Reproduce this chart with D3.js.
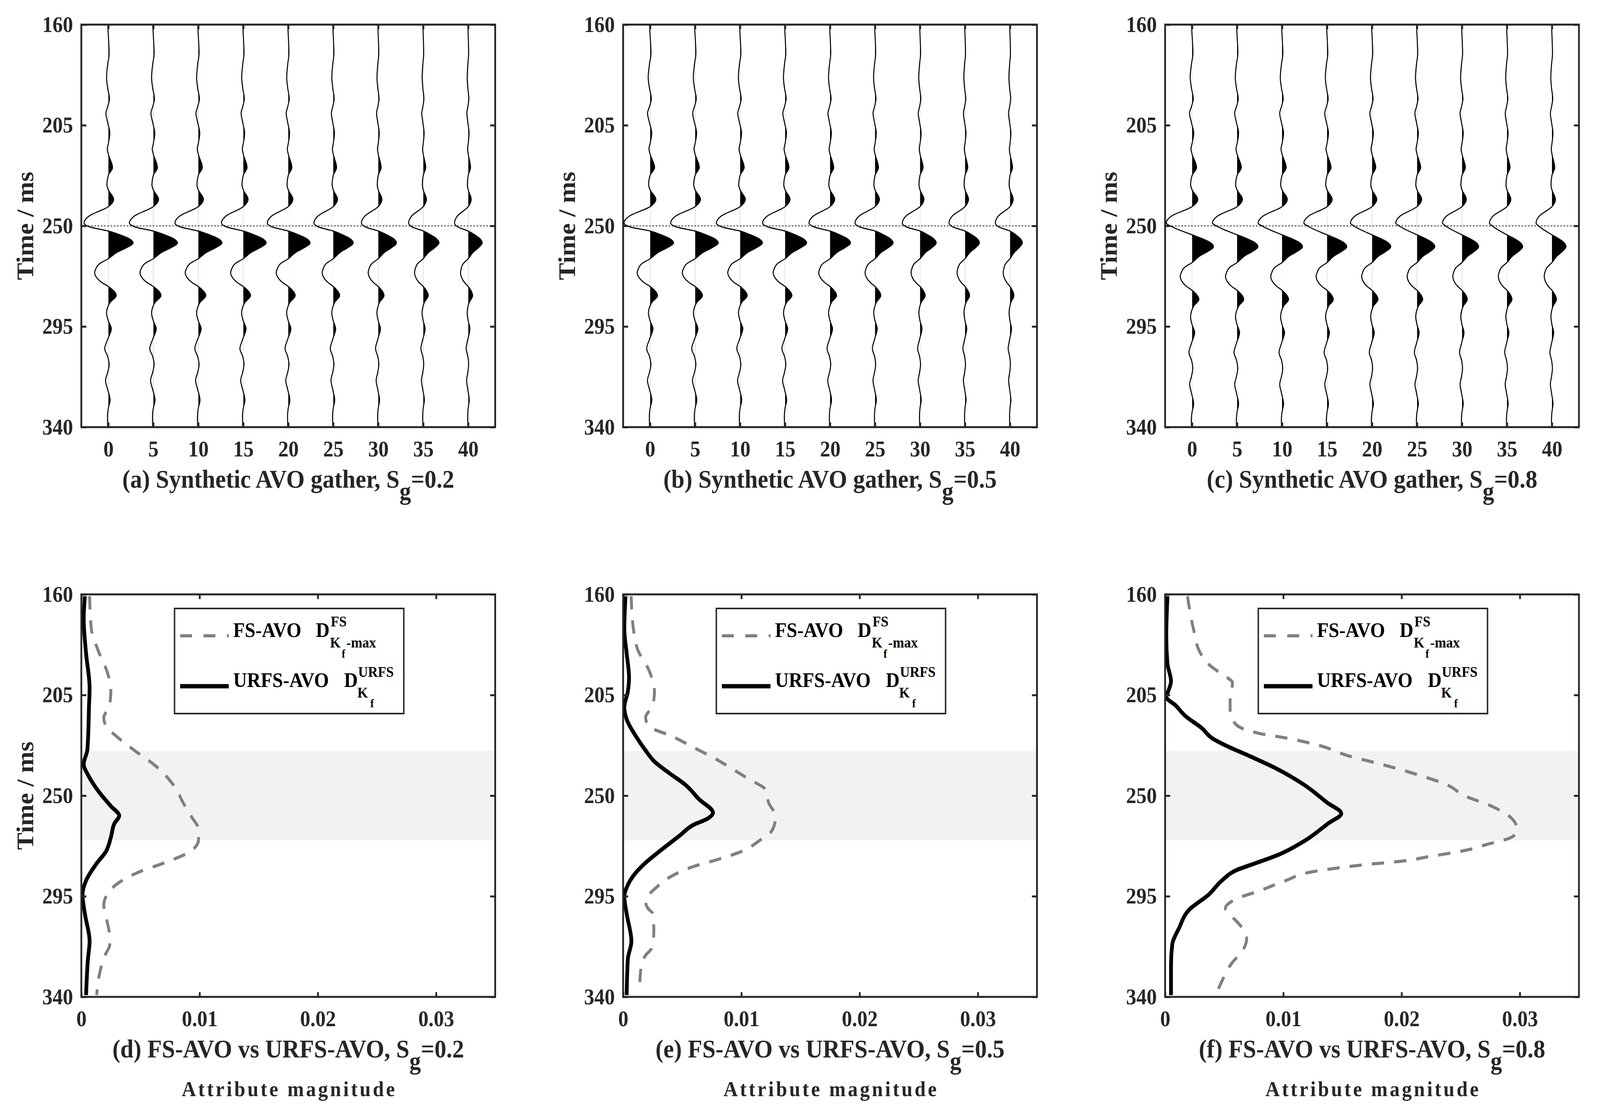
<!DOCTYPE html>
<html>
<head>
<meta charset="utf-8">
<script src="https://cdn.jsdelivr.net/npm/d3@7"></script>
<style>
  html, body { margin: 0; padding: 0; background: #fff; overflow: hidden; }
  #fig { display: block; width: 100vw; height: 100vh; }
</style>
</head>
<body>
<svg id="fig"></svg>
<script>
// ---- data ----
const offsets = [0, 5, 10, 15, 20, 25, 30, 35, 40];
const timeTicks = [160, 205, 250, 295, 340];
const magTicks = [0, 0.01, 0.02, 0.03];
const satValues = ["0.2", "0.5", "0.8"];
const gatherLetters = ["(a)", "(b)", "(c)"];
const compLetters = ["(d)", "(e)", "(f)"];

// reference trace: offset 0 of panel (a), amplitude in offset units
const waveTime = [160, 164.7, 173.0, 177.7, 183.7, 188.4, 193.1, 196.7, 199.6, 203.8,
  208.5, 213.2, 215.6, 217.9, 223.9, 227.4, 231.6, 233.9, 238.1, 241.4,
  245.7, 248.7, 250.5, 252.3, 254.0, 255.8, 257.6, 259.9, 261.7, 264.7,
  267.0, 269.4, 270.9, 272.9, 275.3, 277.1, 281.2, 284.2, 286.6, 288.9,
  292.5, 296.0, 300.7, 304.9, 308.4, 312.0, 315.5, 319.1, 323.2, 327.9,
  331.5, 335.0, 340];
const waveAmp = [-0.07, 0, 0.09, -0.07, -0.2, -0.07, 0.13, -0.07, -0.27, -0.07,
  0.17, 0, -0.12, 0, 0.47, 0, -0.16, 0, 0.6, 0,
  -2.2, -2.73, -2.07, 0, 1.27, 2.33, 2.73, 1.93, 1.0, 0,
  -1.0, -1.4, -1.51, -1.33, -0.73, 0, 0.87, 0.2, -0.09, -0.2,
  0, 0.33, -0.07, -0.4, -0.07, 0.09, -0.07, -0.31, -0.07, 0.2,
  0, -0.09, -0.07];
const refTrough = 2.73, refPeak = 2.73, splitTime = 252.3;

// trough (~249 ms) and peak (~258 ms) size of every trace
const troughA = [2.7, 2.66, 2.6, 2.43, 2.33, 2.15, 1.87, 1.62, 1.52];
const peakA   = [2.75, 2.68, 2.63, 2.54, 2.42, 2.22, 2.02, 1.75, 1.55];
const troughB = [2.9, 2.72, 2.64, 2.5, 2.34, 2.23, 1.97, 1.78, 1.63];
const peakB   = [2.6, 2.57, 2.48, 2.39, 2.27, 2.0, 1.8, 1.6, 1.37];
const troughC = [2.88, 2.74, 2.66, 2.58, 2.4, 2.36, 2.17, 1.95, 1.77];
const peakC   = [2.38, 2.32, 2.27, 2.19, 2.08, 1.98, 1.85, 1.74, 1.56];
// delay (ms) of the part below the zero crossing, per gather
const lowerDelay = [0, 0, 1.7];

// [time ms, attribute]
const fsD = [[160.8,0.0007],[175.5,0.00085],[184.8,0.0014],[195.7,0.00225],[201.9,0.0025],
  [209.7,0.0024],[215.1,0.0019],[219,0.0021],[223.6,0.003],[229.8,0.0045],[236.8,0.0063],
  [246.9,0.008],[253.1,0.0086],[259.3,0.0093],[265.5,0.00994],[270.2,0.0099],[275.6,0.009],
  [280.3,0.0069],[284.1,0.0049],[288.8,0.0032],[295,0.0021],[298.9,0.0019],[304.3,0.0021],
  [313.6,0.0024],[316.7,0.0024],[321.4,0.002],[330.7,0.0015],[339.2,0.0013]];
const urD = [[160.8,0.0003],[170.9,0.0002],[186.4,0.0004],[201.9,0.0007],[209.7,0.00065],
  [225.2,0.00056],[229.8,0.0005],[236,0.0002],[240.7,0.00056],[248.4,0.0015],[254.7,0.0025],
  [259,0.0032],[262.4,0.0028],[268.6,0.0025],[274.8,0.0021],[280.3,0.0013],[288,0.0004],
  [294.2,0.0001],[302.8,0.0003],[315.2,0.0007],[323,0.00056],[339.2,0.0004]];
const fsE = [[160.8,0.00068],[175.5,0.00087],[184.8,0.00124],[194.1,0.0022],[203.4,0.00265],
  [209.7,0.0025],[215.1,0.0019],[219,0.0022],[223.6,0.0042],[228.3,0.0059],[232.9,0.0076],
  [237.6,0.0091],[242.2,0.0105],[247.7,0.0121],[253.1,0.0123],[259.3,0.0129],[265.5,0.0126],
  [270.2,0.0115],[274.8,0.0101],[278.7,0.0079],[281.8,0.0059],[285.7,0.0042],[291.1,0.0028],
  [297.3,0.0019],[300.4,0.0021],[302.8,0.0025],[310.6,0.0026],[318.3,0.0024],[321.4,0.0019],
  [327.6,0.0015],[335.4,0.0014]];
const urE = [[160.8,0.0002],[175.5,0.0001],[186.4,0.0003],[197.2,0.0005],[203.4,0.0004],
  [210.5,0.0001],[215.9,0.0003],[223.6,0.0011],[229.8,0.0019],[234.5,0.0026],[239.9,0.0039],
  [245.3,0.0053],[251.5,0.0064],[257.7,0.0076],[260.1,0.0072],[263.2,0.0059],[267.8,0.0048],
  [274.8,0.0031],[281,0.0017],[284.9,0.001],[291.1,0.0003],[295,0.0001],[302.8,0.0003],
  [315.2,0.0007],[323,0.0004],[339.2,0.0003]];
const fsF = [[160.8,0.0019],[175.5,0.0024],[186.4,0.003],[191.8,0.0038],[195.7,0.0048],
  [199.6,0.0057],[206.6,0.0055],[212.8,0.0055],[218.2,0.006],[222.1,0.0079],[224.4,0.0104],
  [227.5,0.013],[232.2,0.0155],[236,0.0183],[240.7,0.0214],[245.3,0.0239],[250,0.0253],
  [254.7,0.0276],[260.1,0.0293],[265.5,0.0298],[268.6,0.0293],[271.7,0.0273],[274.8,0.0251],
  [277.1,0.0225],[279.5,0.0197],[280.7,0.0172],[282.3,0.0147],[284.1,0.0124],[288,0.0102],
  [292.7,0.0079],[295.8,0.0062],[300.4,0.0051],[304.3,0.0057],[309,0.0065],[313.6,0.0069],
  [319.8,0.0065],[324.5,0.0057],[333,0.0048],[339.2,0.0043]];
const urF = [[160.8,0.0002],[178.6,0.0001],[191,0.0002],[198.8,0.0005],[204.2,0.0002],
  [205.8,0.0001],[209.7,0.0009],[214.3,0.0017],[219.8,0.0031],[224.4,0.004],[227.5,0.0051],
  [232.2,0.0071],[237.6,0.0093],[245.3,0.0118],[253.1,0.0137],[258,0.0149],[262.4,0.0138],
  [270.2,0.0118],[276.4,0.0096],[280.3,0.0076],[283.4,0.006],[288,0.0048],[294.2,0.0037],
  [301.2,0.002],[309,0.0012],[316.7,0.0006],[326,0.0005],[339.2,0.0005]];
const bandTimes = [230, 270];

const gathers = [
  { trough: troughA, peak: peakA, delay: lowerDelay[0] },
  { trough: troughB, peak: peakB, delay: lowerDelay[1] },
  { trough: troughC, peak: peakC, delay: lowerDelay[2] }
];
const comps = [
  { fs: fsD, ur: urD },
  { fs: fsE, ur: urE },
  { fs: fsF, ur: urF }
];

// ---- layout ----
const W = 4446, H = 2843;
const colX = [226, 1731.5, 3237.5];
const rowY = [63, 1521];
const PW = 1150, PH = 1030;
const INK = "#262626";
const FONT = "'Liberation Serif','Times New Roman',serif";

// the drawing is laid out on a 4446x2843 grid and stretched to fill the window
const svg = d3.select("#fig")
  .attr("viewBox", `0 0 ${W} ${H}`)
  .attr("preserveAspectRatio", "none")
  .attr("font-family", FONT).attr("font-weight", "bold");
svg.append("rect").attr("width", W).attr("height", H).attr("fill", "#fff");
const defs = svg.append("defs");

function frame(g, x, y, xTicks, xFmt) {
  const style = sel => {
    sel.attr("font-family", FONT).attr("font-size", 57)
      .attr("font-weight", "bold").attr("color", INK);
    sel.select(".domain").remove();
    sel.selectAll("line").attr("stroke-width", 5);
  };
  g.append("g")
    .call(d3.axisLeft(y).tickValues(timeTicks).tickSize(-14).tickPadding(23))
    .call(style);
  g.append("g").attr("transform", `translate(${PW},0)`)
    .call(d3.axisRight(y).tickValues(timeTicks).tickSize(-14).tickFormat(""))
    .call(style);
  g.append("g")
    .call(d3.axisTop(x).tickValues(xTicks).tickSize(-12).tickFormat(""))
    .call(style);
  const bx = g.append("g").attr("transform", `translate(0,${PH})`)
    .call(d3.axisBottom(x).tickValues(xTicks).tickSize(-12).tickFormat(xFmt))
    .call(style);
  bx.selectAll("text").attr("y", 75).attr("dy", null);
  g.append("rect").attr("width", PW).attr("height", PH)
    .attr("fill", "none").attr("stroke", INK).attr("stroke-width", 5);
}

function yLabel(g) {
  g.append("text")
    .attr("transform", `translate(-134,${PH / 2}) rotate(-90)`)
    .attr("text-anchor", "middle").attr("font-size", 66).attr("fill", INK)
    .text("Time / ms");
}

function title(g, head, sg) {
  const t = g.append("text")
    .attr("x", PW / 2).attr("y", PH + 155)
    .attr("text-anchor", "middle").attr("font-size", 66).attr("fill", INK);
  t.append("tspan").text(head + ", S");
  t.append("tspan").attr("dy", 30).attr("font-size", 64).text("g");
  t.append("tspan").attr("dy", -30).text("=" + sg);
}

// ---- top row: synthetic gathers ----
gathers.forEach((gp, k) => {
  const g = svg.append("g").attr("transform", `translate(${colX[k]},${rowY[0]})`);
  const x = d3.scaleLinear([-3, 43], [0, PW]);
  const y = d3.scaleLinear([160, 340], [0, PH]);
  const line = d3.line().curve(d3.curveMonotoneY)
    .x(d => x(d[1])).y(d => y(d[0]));
  const clipId = `clipg-${k}`;
  defs.append("clipPath").attr("id", clipId).append("rect").attr("width", PW).attr("height", PH);

  g.append("line")
    .attr("x1", 0).attr("x2", PW).attr("y1", y(250)).attr("y2", y(250))
    .attr("stroke", "#888").attr("stroke-width", 4).attr("stroke-dasharray", "5,4");

  const traces = g.append("g").attr("clip-path", `url(#${clipId})`);
  offsets.forEach((o, i) => {
    const pts = waveTime.map((t, j) => t < splitTime
      ? [t, o + waveAmp[j] * gp.trough[i] / refTrough]
      : [t + gp.delay, o + waveAmp[j] * gp.peak[i] / refPeak]);
    const id = `clip-${k}-${i}`;
    defs.append("clipPath").attr("id", id).append("rect")
      .attr("x", x(o)).attr("y", 0).attr("width", PW - x(o)).attr("height", PH);
    const d = line(pts);
    traces.append("g").attr("clip-path", `url(#${id})`).append("path")
      .attr("d", `${d}L${x(o)},${y(pts[pts.length - 1][0])}L${x(o)},${y(pts[0][0])}Z`)
      .attr("fill", "#000");
    traces.append("path").attr("d", d)
      .attr("fill", "none").attr("stroke", "#000").attr("stroke-width", 2.8);
  });

  frame(g, x, y, offsets, d => String(d));
  yLabel(g);
  title(g, gatherLetters[k] + " Synthetic AVO gather", satValues[k]);
});

// ---- bottom row: FS-AVO vs URFS-AVO ----
function legend(g) {
  const lg = g.append("g").attr("transform", "translate(259,36)");
  lg.append("rect").attr("width", 637).attr("height", 269)
    .attr("fill", "#fff").attr("stroke", INK).attr("stroke-width", 4);
  lg.append("line").attr("x1", 15.5).attr("x2", 150.6).attr("y1", 70).attr("y2", 70)
    .attr("stroke", "#808080").attr("stroke-width", 8).attr("stroke-dasharray", "33,32");
  lg.append("line").attr("x1", 15.5).attr("x2", 150.6).attr("y1", 199).attr("y2", 199)
    .attr("stroke", "#000").attr("stroke-width", 11);
  const txt = (s, x, y, size) => lg.append("text").attr("x", x).attr("y", y)
    .attr("font-size", size).attr("fill", "#000").text(s);
  txt("FS-AVO", 163, 73, 53);
  txt("D", 392.6, 73, 53);
  txt("FS", 434, 46, 38);
  txt("K", 432, 100, 38);
  txt("f", 464.5, 126, 30);
  txt("-max", 477.6, 100, 38);
  txt("URFS-AVO", 163, 201, 53);
  txt("D", 471, 201, 53);
  txt("URFS", 510, 175, 38);
  txt("K", 508, 228, 38);
  txt("f", 544, 253, 30);
}

comps.forEach((cp, k) => {
  const g = svg.append("g").attr("transform", `translate(${colX[k]},${rowY[1]})`);
  const x = d3.scaleLinear([0, 0.035], [0, PW]);
  const y = d3.scaleLinear([160, 340], [0, PH]);
  const id = `clipc-${k}`;
  defs.append("clipPath").attr("id", id).append("rect").attr("width", PW).attr("height", PH);

  g.append("rect")
    .attr("x", 0).attr("width", PW)
    .attr("y", y(bandTimes[0])).attr("height", y(bandTimes[1]) - y(bandTimes[0]))
    .attr("fill", "#f2f2f2");

  const line = d3.line().curve(d3.curveMonotoneY)
    .x(d => x(d[1])).y(d => y(d[0]));
  const plot = g.append("g").attr("clip-path", `url(#${id})`);
  plot.append("path").attr("d", line(cp.fs))
    .attr("fill", "none").attr("stroke", "#808080").attr("stroke-width", 8)
    .attr("stroke-dasharray", "34,28");
  plot.append("path").attr("d", line(cp.ur))
    .attr("fill", "none").attr("stroke", "#000").attr("stroke-width", 10.5)
    .attr("stroke-linejoin", "round");

  frame(g, x, y, magTicks, d => String(d));
  legend(g);
  if (k === 0) yLabel(g);
  title(g, compLetters[k] + " FS-AVO vs URFS-AVO", satValues[k]);
  g.append("text")
    .attr("x", PW / 2 + 3).attr("y", PH + 254)
    .attr("text-anchor", "middle").attr("font-size", 55)
    .attr("letter-spacing", 6).attr("fill", INK)
    .text("Attribute magnitude");
});
</script>
</body>
</html>
